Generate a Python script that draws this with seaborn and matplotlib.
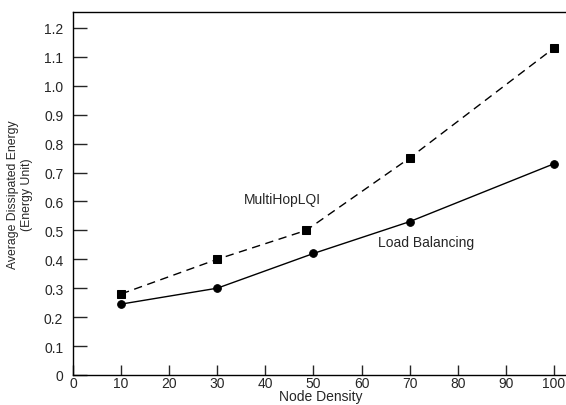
import matplotlib
matplotlib.use("Agg")
import matplotlib.pyplot as plt
import seaborn as sns
import pandas as pd

node_density_lb = [10, 30, 50, 70, 100]
energy_lb = [0.245, 0.30, 0.42, 0.53, 0.73]
node_density_mh = [10, 30, 48.5, 70, 100]
energy_mh = [0.28, 0.40, 0.50, 0.75, 1.13]
x_ticks = [0, 10, 20, 30, 40, 50, 60, 70, 80, 90, 100]
y_ticks = [0, 0.1, 0.2, 0.3, 0.4, 0.5, 0.6, 0.7, 0.8, 0.9, 1.0, 1.1, 1.2]
y_tick_labels = ["0", "0.1", "0.2", "0.3", "0.4", "0.5", "0.6", "0.7", "0.8", "0.9", "1.0", "1.1", "1.2"]

sns.set_style("ticks")
plt.rcParams['font.family'] = ['Liberation Sans', 'DejaVu Sans']

df_lb = pd.DataFrame({"x": node_density_lb, "y": energy_lb})
df_mh = pd.DataFrame({"x": node_density_mh, "y": energy_mh})

fig = plt.figure(figsize=(5.66, 4.06), dpi=100)
ax = fig.add_axes([0.129, 0.074, 0.875, 0.894])

sns.lineplot(data=df_mh, x="x", y="y", ax=ax, color="black", linewidth=1.0,
             marker="s", markersize=6, markeredgecolor="black", dashes=False,
             linestyle=(0, (6, 4)))
sns.lineplot(data=df_lb, x="x", y="y", ax=ax, color="black", linewidth=1.0,
             marker="o", markersize=5.5, markeredgecolor="black")

ax.set_xlim(0, 103)
ax.set_ylim(0, 1.255)
ax.set_xticks(x_ticks)
ax.set_xticklabels([str(v) for v in x_ticks], fontsize=10)
ax.set_yticks(y_ticks)
ax.set_yticklabels(y_tick_labels, fontsize=10)
ax.tick_params(axis="y", direction="in", length=10, width=1, pad=7)
ax.tick_params(axis="x", direction="in", length=7, width=1, pad=1)
for s in ax.spines.values():
    s.set_linewidth(1.0)
    s.set_color("black")

ax.set_xlabel("Node Density", fontsize=10, labelpad=-1)
ax.set_ylabel("Average Dissipated Energy\n(Energy Unit)", fontsize=8.8, labelpad=8, linespacing=1.15)

ax.text(35.5, 0.61, "MultiHopLQI", fontsize=10, ha="left", va="center")
ax.text(63.5, 0.46, "Load Balancing", fontsize=10, ha="left", va="center")

fig.savefig("out.png", dpi=100)
